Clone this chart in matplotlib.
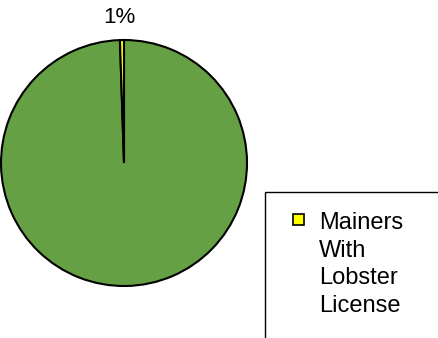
import matplotlib.pyplot as plt
from matplotlib.patches import Rectangle

plt.rcParams['font.family'] = ['Liberation Sans', 'DejaVu Sans']

labels = ['Other Mainers', 'Mainers\nWith\nLobster\nLicense']
values = [1321000, 7000]
colors = ['#66A044', '#FFFF00']

W, H = 438, 338
fig = plt.figure(figsize=(W / 100, H / 100), dpi=100)

# pie axes: centre ~(124,163) px, radius ~123 px
cx, cy, r = 124, 163, 123
ax = fig.add_axes([(cx - r) / W, (H - cy - r) / H, 2 * r / W, 2 * r / H])
wedges, texts = ax.pie(values, colors=colors, startangle=90, counterclock=False,
                       wedgeprops=dict(edgecolor='black', linewidth=1.5))
ax.set_xlim(-1, 1)
ax.set_ylim(-1, 1)
ax.set_aspect('equal')
ax.axis('off')

# percentage label, only the small slice is labelled
pct = values[1] / sum(values) * 100
fig.text(119 / W, (H - 23) / H, '%.0f%%' % max(pct, 1), ha='center',
         va='baseline', fontsize=16)

# legend box (clipped by figure edge)
fig.patches.append(Rectangle((265 / W, -0.1), 0.5, (H - 192) / H + 0.1,
                             transform=fig.transFigure, facecolor='white',
                             edgecolor='black', linewidth=1))
fig.patches.append(Rectangle((293 / W, (H - 225) / H), 11 / W, 11 / H,
                             transform=fig.transFigure, facecolor=colors[1],
                             edgecolor='black', linewidth=1.2))
for i, line in enumerate(labels[1].split('\n')):
    fig.text(319 / W, (H - 229 - 27.7 * i) / H, line, ha='left',
             va='baseline', fontsize=17)

fig.savefig('out.png', dpi=100)
